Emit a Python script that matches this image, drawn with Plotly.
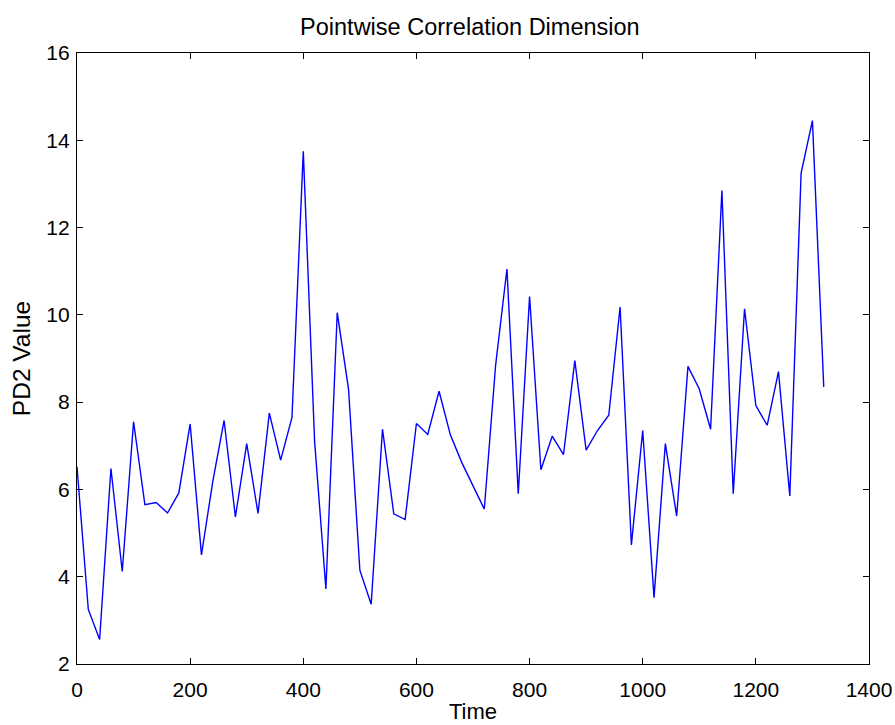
import plotly.graph_objects as go

time = list(range(0, 1321, 20))
pd2 = [6.52, 3.25, 2.56, 6.48, 4.12, 7.55, 5.65, 5.70, 5.46, 5.92,
       7.50, 4.50, 6.18, 7.58, 5.37, 7.05, 5.45, 7.75, 6.67, 7.65,
       13.75, 7.10, 3.72, 10.05, 8.30, 4.15, 3.37, 7.38, 5.44, 5.31,
       7.51, 7.26, 8.25, 7.25, 6.62, 6.08, 5.55, 8.85, 11.05, 5.90,
       10.42, 6.45, 7.22, 6.80, 8.95, 6.90, 7.35, 7.70, 10.18, 4.73,
       7.35, 3.52, 7.05, 5.39, 8.82, 8.30, 7.38, 12.85, 5.90, 10.14,
       7.92, 7.47, 8.70, 5.85, 13.25, 14.45, 8.35]

x_ticks = [0, 200, 400, 600, 800, 1000, 1200, 1400]
y_ticks = [2, 4, 6, 8, 10, 12, 14, 16]

FONT = "Liberation Sans, Arial"

axis_common = dict(showline=True, linecolor="black", linewidth=1.3,
                   mirror="ticks", ticks="inside", ticklen=6, tickwidth=1,
                   tickcolor="black", showgrid=False, zeroline=False,
                   automargin=False, ticklabeloverflow="allow",
                   tickfont=dict(family=FONT, size=21, color="black"))

fig = go.Figure()
fig.add_trace(go.Scatter(x=time, y=pd2, mode="lines",
                         line=dict(color="#0000ff", width=1.4),
                         showlegend=False))

fig.update_layout(
    width=895, height=725,
    margin=dict(l=77, r=26, t=53, b=61),
    paper_bgcolor="white", plot_bgcolor="white",
    title=dict(text="Pointwise Correlation Dimension", x=0.525, xanchor="center",
               y=1 - 27 / 725, yref="container", yanchor="middle",
               font=dict(family=FONT, size=23.5, color="black")),
    xaxis=dict(range=[0, 1400], tickvals=x_ticks, ticklabelstandoff=7,
               **axis_common,
               title=dict(text="Time", standoff=3,
                          font=dict(family=FONT, size=22, color="black"))),
    yaxis=dict(range=[2, 16], tickvals=y_ticks, ticklabelstandoff=2,
               **axis_common,
               title=dict(text="PD2 Value", standoff=8,
                          font=dict(family=FONT, size=24.5, color="black"))),
)

fig.write_html("out.html")
